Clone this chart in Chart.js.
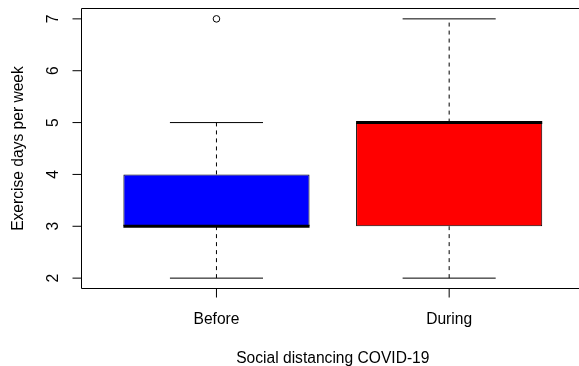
<!DOCTYPE html>
<html>
<head>
<meta charset="utf-8">
<script src="https://cdn.jsdelivr.net/npm/chart.js@4.4.0/dist/chart.umd.min.js"></script>
<style>
  html, body { margin: 0; padding: 0; background: #fff; overflow: hidden; }
  #wrap { width: 579px; height: 366px; }
  canvas { display: block; }
</style>
</head>
<body>
<div id="wrap"><canvas id="c" width="579" height="366"></canvas></div>
<script>
// data
const categories = ["Before", "During"];
const positions = [1, 2];
const whiskerLow = [2, 2];
const q1 = [3, 3];
const median = [3, 5];
const q3 = [4, 5];
const whiskerHigh = [5, 7];
const outliers = [[7], []];
const boxColors = ["#0000ff", "#ff0000"];
const yTicks = [2, 3, 4, 5, 6, 7];
const xTitle = "Social distancing COVID-19";
const yTitle = "Exercise days per week";

const FONT = '15.6px "Liberation Sans", Arial, sans-serif';
const BOX_W = 0.8;
const CAP_W = 0.4;

function seg(x0, y0, x1, y1) {
  return [{ x: x0, y: y0 }, { x: x1, y: y1 }];
}

function lineDs(data, extra) {
  return Object.assign({
    type: "line",
    data: data,
    borderColor: "#000",
    borderWidth: 1,
    pointRadius: 0,
    fill: false,
    tension: 0,
    order: 1
  }, extra || {});
}

const datasets = [];

// boxes (Q1..Q3) as floating bars
datasets.push({
  type: "bar",
  data: positions.map((p, i) => ({ x: p, y: [q1[i], q3[i]] })),
  backgroundColor: boxColors,
  borderColor: "#000",
  borderWidth: 1,
  borderSkipped: false,
  barPercentage: BOX_W,
  categoryPercentage: 1,
  order: 3
});

positions.forEach((p, i) => {
  // whiskers
  datasets.push(lineDs(seg(p, whiskerLow[i], p, q1[i]), { borderDash: [4, 4] }));
  datasets.push(lineDs(seg(p, q3[i], p, whiskerHigh[i]), { borderDash: [4, 4] }));
  // caps
  datasets.push(lineDs(seg(p - CAP_W / 2, whiskerLow[i], p + CAP_W / 2, whiskerLow[i])));
  datasets.push(lineDs(seg(p - CAP_W / 2, whiskerHigh[i], p + CAP_W / 2, whiskerHigh[i])));
  // median
  datasets.push(lineDs(seg(p - BOX_W / 2, median[i], p + BOX_W / 2, median[i]), { borderWidth: 3, order: 0 }));
});

// outliers
const outlierPts = [];
outliers.forEach((list, i) => list.forEach(v => outlierPts.push({ x: positions[i], y: v })));
datasets.push({
  type: "line",
  data: outlierPts,
  showLine: false,
  pointRadius: 3.3,
  pointBorderWidth: 1,
  pointBorderColor: "#000",
  pointBackgroundColor: "rgba(0,0,0,0)",
  order: 0
});

// R style frame, ticks and labels
const rAxes = {
  id: "rAxes",
  afterDraw(chart) {
    const { ctx, chartArea: a, scales: { x, y } } = chart;
    ctx.save();
    ctx.strokeStyle = "#000";
    ctx.lineWidth = 1;
    ctx.beginPath();
    ctx.moveTo(a.right + 2, a.top);
    ctx.lineTo(a.left, a.top);
    ctx.lineTo(a.left, a.bottom);
    ctx.lineTo(a.right + 2, a.bottom);
    yTicks.forEach(v => {
      const py = y.getPixelForValue(v);
      ctx.moveTo(a.left - 9, py);
      ctx.lineTo(a.left, py);
    });
    positions.forEach(p => {
      const px = x.getPixelForValue(p);
      ctx.moveTo(px, a.bottom);
      ctx.lineTo(px, a.bottom + 9);
    });
    ctx.stroke();

    ctx.fillStyle = "#000";
    ctx.font = FONT;
    ctx.textAlign = "center";
    ctx.textBaseline = "alphabetic";
    categories.forEach((c, i) => ctx.fillText(c, x.getPixelForValue(positions[i]), a.bottom + 35));
    ctx.fillText(xTitle, x.getPixelForValue(1.5), a.bottom + 74);

    yTicks.forEach(v => {
      ctx.save();
      ctx.translate(a.left - 24, y.getPixelForValue(v));
      ctx.rotate(-Math.PI / 2);
      ctx.fillText(String(v), 0, 0);
      ctx.restore();
    });
    ctx.save();
    ctx.translate(a.left - 58.5, (a.top + a.bottom) / 2);
    ctx.rotate(-Math.PI / 2);
    ctx.fillText(yTitle, 0, 0);
    ctx.restore();
    ctx.restore();
  }
};

new Chart(document.getElementById("c"), {
  type: "bar",
  data: { datasets: datasets },
  options: {
    responsive: false,
    animation: false,
    layout: { autoPadding: false, padding: { left: 81.5, top: 8.5, right: 0, bottom: 77.5 } },
    scales: {
      x: {
        type: "linear",
        display: false,
        offset: false,
        min: 0.42,
        max: 2.558,
        afterBuildTicks: s => { s.ticks = positions.map(v => ({ value: v })); }
      },
      y: {
        type: "linear",
        display: false,
        min: 1.8,
        max: 7.2
      }
    },
    plugins: {
      legend: { display: false },
      tooltip: { enabled: false }
    }
  },
  plugins: [rAxes]
});
</script>
</body>
</html>
